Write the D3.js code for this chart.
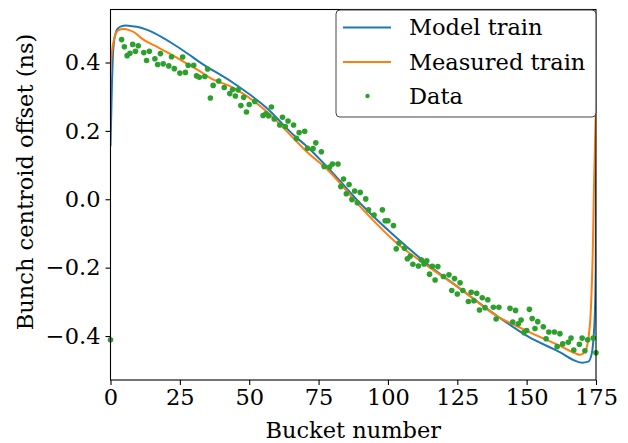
<!DOCTYPE html>
<html>
<head>
<meta charset="utf-8">
<script src="https://cdn.jsdelivr.net/npm/d3@7"></script>
<style>
  html, body { margin: 0; padding: 0; background: #fff; }
  svg { display: block; }
  text { font-family: "DejaVu Serif", serif; fill: #000; }
</style>
</head>
<body>
<svg id="chart" width="628" height="443"></svg>
<script>
// ---- data ----
const modelX = [0, 0.5, 1, 2, 3, 4, 5.5, 8, 10, 13, 16, 22, 28, 32, 44.3, 56.3, 66.5, 70, 78.5, 90.5, 102.6, 114.6, 126.6, 140, 150.6, 162.6, 167.4, 170, 172.2, 173.5, 174.3, 174.6, 174.9, 175];
const modelY = [0.155, 0.33, 0.44, 0.49, 0.502, 0.506, 0.508, 0.506, 0.504, 0.496, 0.485, 0.457, 0.425, 0.402, 0.340, 0.267, 0.184, 0.160, 0.091, -0.016, -0.109, -0.192, -0.265, -0.345, -0.402, -0.450, -0.472, -0.478, -0.475, -0.450, -0.382, -0.33, -0.2, 0.23];

const measuredX = [0, 0.5, 1.4, 2.8, 4.6, 7, 8.8, 10, 11, 16, 22, 28, 32.3, 35.9, 44.3, 56.3, 66.5, 70, 78.5, 90.5, 102.6, 114.6, 126.6, 138.6, 150.6, 162.6, 167.4, 169.3, 171, 172.2, 173.2, 173.8, 174.3, 175];
const measuredY = [0.379, 0.43, 0.472, 0.494, 0.498, 0.494, 0.487, 0.479, 0.472, 0.449, 0.423, 0.394, 0.374, 0.355, 0.326, 0.257, 0.174, 0.145, 0.084, -0.026, -0.124, -0.197, -0.265, -0.338, -0.387, -0.431, -0.450, -0.455, -0.446, -0.411, -0.314, -0.167, 0.05, 0.28];

const dataX = [0, 4, 5, 6, 7, 8, 9, 10, 12, 13, 14, 16, 17, 18, 19, 21, 22, 23, 25, 26, 27, 28, 30, 31, 32, 34, 35, 36, 37, 39, 41, 43, 44, 45, 46, 47, 48, 49, 50, 52, 55, 56, 57, 58, 59, 61, 62, 63, 64, 66, 67, 68, 70, 71, 73, 74, 76, 77, 79, 80, 82, 83, 84, 85, 86, 87, 88, 89, 90, 92, 93, 95, 98, 99, 100, 102, 103, 104, 106, 107, 108, 109, 111, 112, 113, 114, 115, 116, 117, 118, 120, 122, 123, 124, 125, 126, 127, 129, 130, 131, 132, 133, 134, 135, 136, 138, 139, 140, 144, 145, 146, 147, 148, 149, 150, 151, 152, 153, 154, 156, 157, 158, 160, 161, 162, 163, 165, 166, 167, 169, 170, 171, 172, 174, 175];
const dataY = [-0.411, 0.467, 0.446, 0.420, 0.427, 0.453, 0.433, 0.449, 0.429, 0.406, 0.433, 0.411, 0.394, 0.426, 0.396, 0.390, 0.417, 0.382, 0.369, 0.416, 0.371, 0.392, 0.392, 0.361, 0.357, 0.359, 0.381, 0.296, 0.333, 0.346, 0.327, 0.309, 0.321, 0.302, 0.320, 0.274, 0.298, 0.255, 0.277, 0.286, 0.245, 0.250, 0.244, 0.270, 0.235, 0.217, 0.240, 0.213, 0.229, 0.217, 0.178, 0.195, 0.199, 0.149, 0.148, 0.165, 0.139, 0.096, 0.094, 0.103, 0.103, 0.037, 0.059, 0.016, 0.043, -0.001, 0.024, -0.010, 0.020, 0.001, -0.031, -0.046, -0.031, -0.063, -0.063, -0.077, -0.145, -0.128, -0.143, -0.174, -0.167, -0.190, -0.195, -0.177, -0.189, -0.180, -0.219, -0.196, -0.236, -0.197, -0.226, -0.221, -0.267, -0.232, -0.277, -0.244, -0.267, -0.299, -0.272, -0.297, -0.275, -0.324, -0.288, -0.317, -0.294, -0.316, -0.350, -0.316, -0.319, -0.359, -0.325, -0.364, -0.353, -0.390, -0.384, -0.322, -0.349, -0.378, -0.358, -0.373, -0.408, -0.388, -0.388, -0.431, -0.393, -0.423, -0.418, -0.406, -0.441, -0.424, -0.406, -0.443, -0.411, -0.406, -0.449];

const xTicks = [0, 25, 50, 75, 100, 125, 150, 175];
const yTicks = [-0.4, -0.2, 0.0, 0.2, 0.4];
const seriesNames = ["Model train", "Measured train", "Data"];
const colors = ["#1f77b4", "#ff7f0e", "#2ca02c"];

// ---- layout ----
const FS = 22.5;
const L = 110.5, R = 596, T = 9.5, B = 380;
const svg = d3.select("#chart");
const x = d3.scaleLinear().domain([0, 175]).range([L, R]);
const y = d3.scaleLinear().domain([-0.5286, 0.555]).range([B, T]);

svg.append("defs").append("clipPath").attr("id", "clip")
  .append("rect").attr("x", L).attr("y", T).attr("width", R - L).attr("height", B - T);

const plot = svg.append("g").attr("clip-path", "url(#clip)");
const line = d3.line().x(d => x(d[0])).y(d => y(d[1])).curve(d3.curveMonotoneX);

plot.append("path").datum(d3.zip(modelX, modelY))
  .attr("d", line).attr("fill", "none").attr("stroke", colors[0]).attr("stroke-width", 2);
plot.append("path").datum(d3.zip(measuredX, measuredY))
  .attr("d", line).attr("fill", "none").attr("stroke", colors[1]).attr("stroke-width", 2);

svg.append("g").selectAll("circle").data(d3.zip(dataX, dataY)).join("circle")
  .attr("cx", d => x(d[0])).attr("cy", d => y(d[1])).attr("r", 2.8).attr("fill", colors[2]);

// ---- axes ----
const fmt = d3.format(".1f");
const xAxis = d3.axisBottom(x).tickValues(xTicks).tickSize(5).tickPadding(4).tickFormat(d3.format("d"));
const yAxis = d3.axisLeft(y).tickValues(yTicks).tickSize(5).tickPadding(5).tickFormat(fmt);

const gx = svg.append("g").attr("transform", `translate(0,${B})`).call(xAxis);
const gy = svg.append("g").attr("transform", `translate(${L},0)`).call(yAxis);
[gx, gy].forEach(g => {
  g.select(".domain").remove();
  g.selectAll(".tick line").attr("stroke", "#000").attr("stroke-width", 1.1);
  g.selectAll(".tick text").attr("font-family", "DejaVu Serif").attr("font-size", FS).attr("fill", "#000");
});

svg.append("rect").attr("x", L).attr("y", T).attr("width", R - L).attr("height", B - T)
  .attr("fill", "none").attr("stroke", "#000").attr("stroke-width", 1.1);

svg.append("text").attr("x", (L + R) / 2).attr("y", 438).attr("text-anchor", "middle")
  .attr("font-size", FS).text("Bucket number");
svg.append("text").attr("transform", `translate(33,182) rotate(-90)`).attr("text-anchor", "middle")
  .attr("font-size", FS).text("Bunch centroid offset (ns)");

// ---- legend ----
const lg = svg.append("g");
lg.append("rect").attr("x", 336).attr("y", 10).attr("width", 260).attr("height", 107).attr("rx", 4)
  .attr("fill", "#fff").attr("fill-opacity", 0.8).attr("stroke", "#444").attr("stroke-width", 1);
const rowY = [27.5, 62, 96];
seriesNames.forEach((name, i) => {
  if (i < 2) {
    lg.append("line").attr("x1", 343).attr("x2", 391).attr("y1", rowY[i]).attr("y2", rowY[i])
      .attr("stroke", colors[i]).attr("stroke-width", 2);
  } else {
    lg.append("circle").attr("cx", 367.5).attr("cy", rowY[i]).attr("r", 2.2).attr("fill", colors[i]);
  }
  lg.append("text").attr("x", 409).attr("y", rowY[i]).attr("dy", "0.35em")
    .attr("font-size", FS).text(name);
});
</script>
</body>
</html>
